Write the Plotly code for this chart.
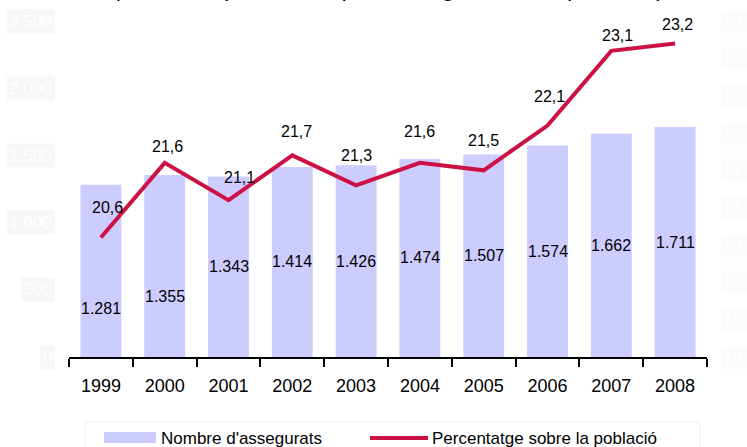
import plotly.graph_objects as go

# ---- data ----
years = ["1999", "2000", "2001", "2002", "2003", "2004", "2005", "2006", "2007", "2008"]
insured = [1281, 1355, 1343, 1414, 1426, 1474, 1507, 1574, 1662, 1711]
pct = [20.6, 21.6, 21.1, 21.7, 21.3, 21.6, 21.5, 22.1, 23.1, 23.2]
left_ticks = [0, 500, 1000, 1500, 2000, 2500]
left_tick_text = ["0", "500", "1.000", "1.500", "2.000", "2.500"]
right_ticks = [19.0, 19.5, 20.0, 20.5, 21.0, 21.5, 22.0, 22.5, 23.0, 23.5]
right_tick_text = ["19,0", "19,5", "20,0", "20,5", "21,0", "21,5", "22,0", "22,5", "23,0", "23,5"]
title_text = "(Milers de persones i percentatge sobre la població)"
bar_name = "Nombre d'assegurats"
line_name = "Percentatge sobre la població"

# ---- style ----
FONT = "Liberation Sans, Arial, sans-serif"
BAR_COLOR = "#ccccff"
LINE_COLOR = "#cc1144"
bar_label_yshift = [-38, -31, 0, 0, 0, 0, 0, 0, 0, 0]
line_label_xshift = [7, 3, 11, 4, 0, 0, 0, 2, 6, 2]
line_label_yshift = [30, 16, 23, 24, 30, 31, 30, 29, 15, 19]

L, R, T, B = 69, 40, 21, 90
W, H = 747, 447
PW, PH = W - L - R, H - T - B


def px(xp):
    return (xp - L) / PW


def py(yp):
    return (H - B - yp) / PH


fig = go.Figure()
fig.add_trace(go.Bar(x=years, y=insured, marker_color=BAR_COLOR, marker_line_width=0,
                     name=bar_name, yaxis="y", showlegend=False, hoverinfo="skip"))
fig.add_trace(go.Scatter(x=years, y=pct, mode="lines", name=line_name, yaxis="y2",
                         line=dict(color=LINE_COLOR, width=4), showlegend=False,
                         hoverinfo="skip"))

ann = []
# bar value labels (category index positions)
for i, v in enumerate(insured):
    ann.append(dict(x=i, y=v / 2, xref="x", yref="y", showarrow=False,
                    text=f"{v:,}".replace(",", "."), yshift=bar_label_yshift[i],
                    font=dict(family=FONT, size=16, color="black")))
# line value labels
for i, v in enumerate(pct):
    ann.append(dict(x=i, y=v, xref="x", yref="y2", showarrow=False,
                    text=f"{v:.1f}".replace(".", ","), xshift=line_label_xshift[i],
                    yshift=line_label_yshift[i],
                    font=dict(family=FONT, size=16, color="black")))
# faint axis tick labels
for v, t in zip(left_ticks, left_tick_text):
    ann.append(dict(x=0, y=v, xref="paper", yref="y", showarrow=False, xanchor="right",
                    yanchor="middle", xshift=-14, text=t, bgcolor="#f7f7f7", borderpad=2,
                    font=dict(family=FONT, size=17, color="#ffffff")))
for v, t in zip(right_ticks, right_tick_text):
    ann.append(dict(x=1, y=v, xref="paper", yref="y2", showarrow=False, xanchor="left",
                    yanchor="middle", xshift=14, text=t, bgcolor="#fbfbfb", borderpad=1,
                    font=dict(family=FONT, size=17, color="#ffffff")))
# title (mostly cropped at the top)
ann.append(dict(x=0.5, y=1, xref="paper", yref="paper", showarrow=False, yanchor="bottom",
                xanchor="center", yshift=18, text=title_text,
                font=dict(family=FONT, size=24, color="black")))
# legend texts
ann.append(dict(x=px(159), y=py(438), xref="paper", yref="paper", showarrow=False,
                xanchor="left", yanchor="middle", text=bar_name,
                font=dict(family=FONT, size=17, color="black")))
ann.append(dict(x=px(430), y=py(438), xref="paper", yref="paper", showarrow=False,
                xanchor="left", yanchor="middle", text=line_name,
                font=dict(family=FONT, size=17, color="black")))

shapes = [
    dict(type="rect", xref="paper", yref="paper", x0=px(85), x1=px(700), y0=py(460), y1=py(422),
         line=dict(color="#ececec", width=1), fillcolor="rgba(0,0,0,0)"),
    dict(type="rect", xref="paper", yref="paper", x0=px(104), x1=px(156), y0=py(443), y1=py(432),
         line=dict(width=0), fillcolor=BAR_COLOR),
    dict(type="line", xref="paper", yref="paper", x0=px(370), x1=px(428), y0=py(438), y1=py(438),
         line=dict(color=LINE_COLOR, width=4)),
]

fig.update_layout(
    width=W, height=H,
    margin=dict(l=L, r=R, t=T, b=B),
    paper_bgcolor="white", plot_bgcolor="white",
    bargap=0.36,
    showlegend=False,
    hovermode=False,
    font=dict(family=FONT, color="black"),
    xaxis=dict(type="category", categoryorder="array", categoryarray=years,
               range=[-0.5, len(years) - 0.5], showline=True, linecolor="black", linewidth=1.5,
               ticks="outside", tickson="boundaries", ticklen=8, tickwidth=1.5, tickcolor="black",
               ticklabelstandoff=12,
               tickfont=dict(family=FONT, size=18, color="black"), showgrid=False),
    yaxis=dict(range=[0, 2500], showgrid=False, zeroline=False, showticklabels=False,
               tickvals=left_ticks, ticktext=left_tick_text, showline=False),
    yaxis2=dict(range=[19, 23.5], overlaying="y", side="right", showgrid=False, zeroline=False,
                showticklabels=False, tickvals=right_ticks, ticktext=right_tick_text, showline=False),
    annotations=ann,
    shapes=shapes,
)

fig.write_html("out.html", config={"displayModeBar": False},
               post_script="document.body.style.margin='0px';")
